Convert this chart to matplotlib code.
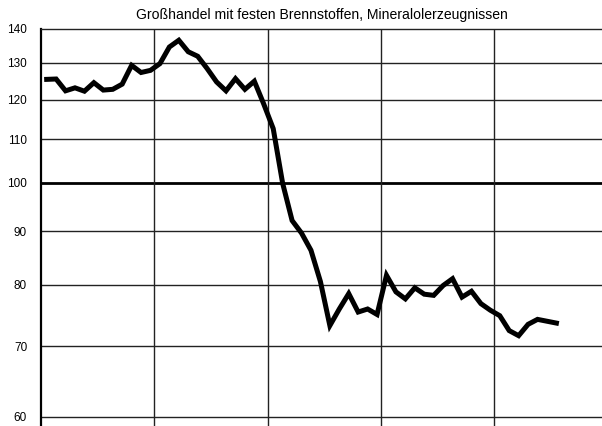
import matplotlib
matplotlib.use("Agg")
import matplotlib.pyplot as plt
import numpy as np

title = "Großhandel mit festen Brennstoffen, Mineralolerzeugnissen"

# monthly index values (log scale chart)
values = [125.4, 125.5, 122.3, 123.1, 122.2, 124.5, 122.5, 122.7, 124.1, 129.3,
          127.3, 127.9, 129.8, 134.6, 136.6, 133.2, 131.9, 128.4, 124.7, 122.3,
          125.6, 122.7, 124.9, 118.8, 112.6, 99.9, 92.1, 89.6, 86.3, 80.6,
          73.2, 75.9, 78.5, 75.4, 75.9, 75.0, 81.7, 78.8, 77.6, 79.5,
          78.4, 78.2, 79.9, 81.1, 77.9, 78.9, 76.8, 75.7, 74.8, 72.4,
          71.6, 73.4, 74.2, 73.9, 73.6]
months = np.arange(len(values)) + 0.6

ytick_vals = [60, 70, 80, 90, 100, 110, 120, 130, 140]
year_lines = [12, 24, 36, 48]

plt.rcParams['font.family'] = ['Liberation Sans', 'DejaVu Sans']

fig = plt.figure(figsize=(6.02, 4.26), dpi=100)
ax = fig.add_axes([41/602, 0.0, 1 - 41/602, (426 - 29) / 426])
ax.set_yscale('log')
ax.set_ylim(58.77, 140)
ax.set_xlim(0, 59.43)

for v in ytick_vals:
    if v == 100:
        ax.axhline(v, color='black', lw=2.0, zorder=1)
    elif v == 140:
        continue
    else:
        ax.axhline(v, color='#222222', lw=1.0, zorder=1)
for x in year_lines:
    ax.axvline(x, color='#222222', lw=1.0, zorder=1)

ax.plot(months, values, color='black', lw=3.6, solid_joinstyle='miter', zorder=3)

ax.set_yticks(ytick_vals)
ax.set_yticklabels([str(v) for v in ytick_vals])
ax.yaxis.set_minor_locator(matplotlib.ticker.NullLocator())
ax.tick_params(axis='y', length=0, pad=10, labelsize=8.5)
for lbl in ax.get_yticklabels():
    lbl.set_fontweight('medium')
ax.set_xticks([])

for s in ['right', 'bottom']:
    ax.spines[s].set_visible(False)
ax.spines['left'].set_linewidth(1.6)
ax.spines['top'].set_linewidth(1.0)
ax.spines['top'].set_color('#222222')

fig.text((41 + 602) / 2 / 602, 1 - 15 / 426, title, ha='center', va='center', fontsize=10.1)

fig.savefig("out.png", dpi=100)
